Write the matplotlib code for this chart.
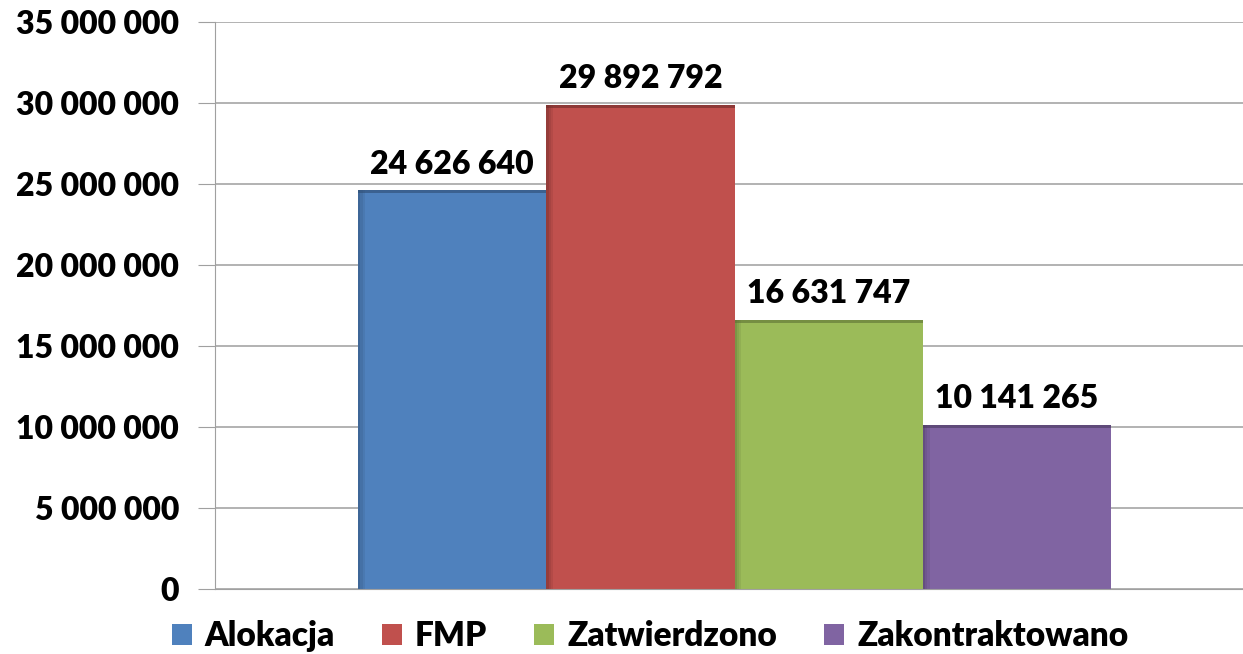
import matplotlib.pyplot as plt
import matplotlib.ticker as mticker
from matplotlib.patches import Patch

categories = ["Alokacja", "FMP", "Zatwierdzono", "Zakontraktowano"]
values = [24626640, 29892792, 16631747, 10141265]
colors = ["#4F81BD", "#C0504D", "#9BBB59", "#8064A2"]
shades = ["#2E4D73", "#6E2B29", "#5C7034", "#4A3A60"]

plt.rcParams['font.family'] = ['Lato', 'DejaVu Sans']

def fmt(v, pos=None):
  return "{:,}".format(int(v)).replace(",", " ")

fig = plt.figure(figsize=(12.43, 6.54), dpi=100)
ax = fig.add_axes([215/1243, 65/654, 1 - 215/1243, (589-22)/654])

x = list(range(len(values)))
ax.bar(x, values, width=1.0, color=colors, zorder=2)
# darker inner shadow on left and top edge of each bar
for i, v in enumerate(values):
  for k, a in enumerate([0.5, 0.3, 0.15]):
    ax.bar(i - 0.5 + 0.012 * (k + 0.5), v, width=0.012, color=shades[i], alpha=a, zorder=3, linewidth=0)
  ax.bar(i, 200000, bottom=v - 200000, width=1.0, color=shades[i], alpha=0.6, zorder=3, linewidth=0)
  ax.text(i, v + 700000, fmt(v), ha='center', va='bottom', fontsize=23, fontweight='heavy', color='black')

ax.set_xlim(-1.26, 4.2)
ax.set_ylim(0, 35000000)
ax.yaxis.set_major_locator(mticker.MultipleLocator(5000000))
ax.yaxis.set_major_formatter(mticker.FuncFormatter(fmt))
ax.set_xticks([])
ax.tick_params(axis='y', length=12, color='#A0A0A0', labelsize=23, pad=14)
for lab in ax.get_yticklabels():
  lab.set_fontweight('heavy')
ax.grid(axis='y', color='#A6A6A6', linewidth=1.2, zorder=0)
ax.set_axisbelow(True)
for s in ['top', 'right']:
  ax.spines[s].set_visible(False)
ax.spines['left'].set_color('#A0A0A0')
ax.spines['bottom'].set_color('#A0A0A0')

handles = [Patch(facecolor=c, edgecolor='none') for c in colors]
fig.legend(handles, categories, loc='center', bbox_to_anchor=(650/1243, 1 - 636/654), ncol=4,
           frameon=False, prop={'size': 24, 'weight': 'heavy'}, handlelength=0.6, handleheight=0.6,
           handletextpad=0.4, columnspacing=1.4)

fig.savefig("out.png", dpi=100)
